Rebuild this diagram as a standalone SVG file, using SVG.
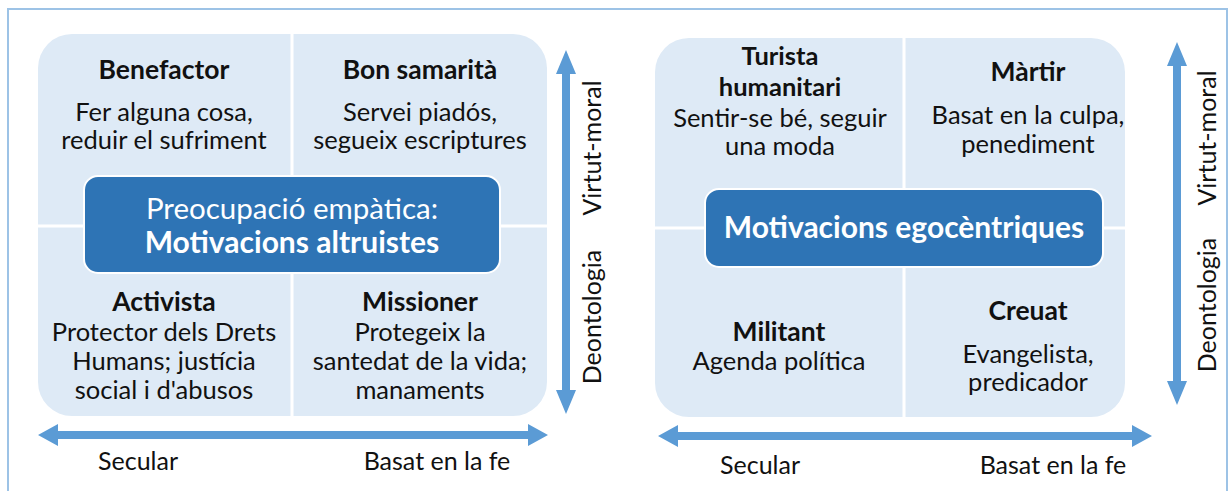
<svg xmlns="http://www.w3.org/2000/svg" width="1231" height="491" viewBox="0 0 1231 491">
<style>
text{font-family:Lato,"Open Sans","Liberation Sans",sans-serif;fill:#111;text-anchor:middle}
.t{font-weight:bold;font-size:26.5px}
.d{font-size:25.5px}
.c{fill:#fff;font-size:29.5px}
.cb{fill:#fff;font-size:30px;font-weight:bold}
.ax{font-size:25px}
.panel{fill:#DEEAF6}
.div{stroke:#fff;stroke-width:3}
.center{fill:#2E74B5;stroke:#fff;stroke-width:2}
.arr{fill:#5B9BD5}
</style>
<rect x="8" y="9" width="1219" height="490" fill="#fff" stroke="#9DC3E6" stroke-width="2"/>

<g id="left-quadrant">
<rect class="panel" x="38" y="34" width="509" height="382" rx="34"/>
<line class="div" x1="292" y1="34" x2="292" y2="416"/>
<line class="div" x1="38" y1="226" x2="547" y2="226"/>
</g>
<g id="benefactor">
<text class="t" x="164" y="79">Benefactor</text>
<text class="d" x="164" y="121">Fer alguna cosa,</text>
<text class="d" x="164" y="149">reduir el sufriment</text>
</g>
<g id="bon-samarita">
<text class="t" x="420" y="79">Bon samarità</text>
<text class="d" x="420" y="121">Servei piadós,</text>
<text class="d" x="420" y="149">segueix escriptures</text>
</g>
<g id="activista">
<text class="t" x="164" y="311">Activista</text>
<text class="d" x="164" y="341">Protector dels Drets</text>
<text class="d" x="164" y="370">Humans; justícia</text>
<text class="d" x="164" y="399">social i d'abusos</text>
</g>
<g id="missioner">
<text class="t" x="420" y="311">Missioner</text>
<text class="d" x="420" y="341">Protegeix la</text>
<text class="d" x="420" y="370">santedat de la vida;</text>
<text class="d" x="420" y="399">manaments</text>
</g>
<g id="altruistes">
<rect class="center" x="84" y="176" width="416" height="97" rx="14"/>
<text class="c" x="292" y="219">Preocupació empàtica:</text>
<text class="cb" x="292" y="253">Motivacions altruistes</text>
</g>

<g id="right-quadrant">
<rect class="panel" x="655" y="38" width="470" height="379" rx="34"/>
<line class="div" x1="904" y1="38" x2="904" y2="417"/>
<line class="div" x1="655" y1="228" x2="1125" y2="228"/>
</g>
<g id="turista">
<text class="t" x="780" y="65" style="font-size:25.5px">Turista</text>
<text class="t" x="780" y="96" style="font-size:25.5px">humanitari</text>
<text class="d" x="780" y="127">Sentir-se bé, seguir</text>
<text class="d" x="780" y="155">una moda</text>
</g>
<g id="martir">
<text class="t" x="1028" y="81">Màrtir</text>
<text class="d" x="1028" y="124">Basat en la culpa,</text>
<text class="d" x="1028" y="153">penediment</text>
</g>
<g id="militant">
<text class="t" x="779" y="341">Militant</text>
<text class="d" x="779" y="370">Agenda política</text>
</g>
<g id="creuat">
<text class="t" x="1028" y="320">Creuat</text>
<text class="d" x="1028" y="363">Evangelista,</text>
<text class="d" x="1028" y="391">predicador</text>
</g>
<g id="egocentriques">
<rect class="center" x="705" y="189" width="398" height="78" rx="14"/>
<text class="cb" x="904" y="238">Motivacions egocèntriques</text>
</g>

<g id="connectors">
<path class="arr" d="M566 50 L576 74 L570 74 L570 390 L576 390 L566 414 L556 390 L562 390 L562 74 L556 74 Z"/>
<path class="arr" d="M38 435 L58 424 L58 431 L528 431 L528 424 L548 435 L528 446 L528 439 L58 439 L58 446 Z"/>
<path class="arr" d="M1177 42 L1187 66 L1181 66 L1181 381 L1187 381 L1177 405 L1167 381 L1173 381 L1173 66 L1167 66 Z"/>
<path class="arr" d="M658 436 L678 425 L678 432 L1132 432 L1132 425 L1152 436 L1132 447 L1132 440 L678 440 L678 447 Z"/>
</g>
<g id="axis-labels">
<text class="ax" transform="translate(601 148) rotate(-90)">Virtut-moral</text>
<text class="ax" transform="translate(601 317) rotate(-90)">Deontologia</text>
<text class="ax" x="138" y="470">Secular</text>
<text class="ax" x="437" y="470">Basat en la fe</text>
<text class="ax" transform="translate(1216 138) rotate(-90)">Virtut-moral</text>
<text class="ax" transform="translate(1216 305) rotate(-90)">Deontologia</text>
<text class="ax" x="760" y="474">Secular</text>
<text class="ax" x="1053" y="474">Basat en la fe</text>
</g>
</svg>
